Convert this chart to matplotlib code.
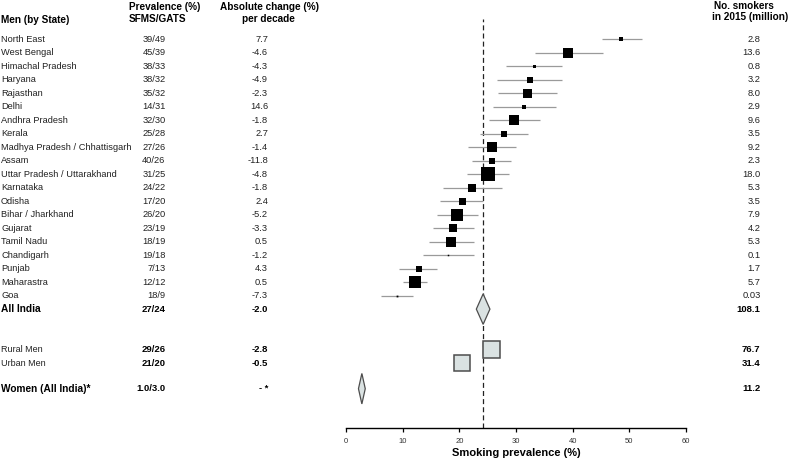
import matplotlib
matplotlib.use("Agg")
import matplotlib.pyplot as plt
from matplotlib.transforms import blended_transform_factory
from matplotlib.patches import Polygon, Rectangle

plt.rcParams['font.family'] = ['Liberation Sans', 'DejaVu Sans']

# ---------------- data ----------------
states = ["North East", "West Bengal", "Himachal Pradesh", "Haryana", "Rajasthan", "Delhi",
          "Andhra Pradesh", "Kerala", "Madhya Pradesh / Chhattisgarh", "Assam",
          "Uttar Pradesh / Uttarakhand", "Karnataka", "Odisha", "Bihar / Jharkhand",
          "Gujarat", "Tamil Nadu", "Chandigarh", "Punjab", "Maharastra", "Goa"]
prev_text = ["39/49", "45/39", "38/33", "38/32", "35/32", "14/31", "32/30", "25/28", "27/26",
             "40/26", "31/25", "24/22", "17/20", "26/20", "23/19", "18/19", "19/18", "7/13",
             "12/12", "18/9"]
change_text = ["7.7", "-4.6", "-4.3", "-4.9", "-2.3", "14.6", "-1.8", "2.7", "-1.4", "-11.8",
               "-4.8", "-1.8", "2.4", "-5.2", "-3.3", "0.5", "-1.2", "4.3", "0.5", "-7.3"]
smokers_text = ["2.8", "13.6", "0.8", "3.2", "8.0", "2.9", "9.6", "3.5", "9.2", "2.3", "18.0",
                "5.3", "3.5", "7.9", "4.2", "5.3", "0.1", "1.7", "5.7", "0.03"]
estimate = [48.6, 39.2, 33.1, 32.4, 32.0, 31.4, 29.7, 27.9, 25.8, 25.7, 25.1, 22.3, 20.4,
            19.6, 18.9, 18.6, 18.0, 12.8, 12.2, 9.0]
ci_low = [45.1, 33.3, 28.2, 26.6, 26.9, 25.9, 25.2, 23.6, 21.5, 22.3, 21.4, 17.2, 16.5,
          16.0, 15.4, 14.7, 13.6, 9.4, 10.1, 6.2]
ci_high = [52.3, 45.3, 38.1, 38.1, 37.2, 37.1, 34.2, 32.2, 30.0, 29.2, 28.8, 27.5, 24.2,
           23.3, 22.5, 22.5, 22.6, 16.1, 14.3, 11.8]
weights = [4.7, 10.7, 3.0, 6.0, 9.0, 5.0, 10.3, 6.3, 10.7, 6.0, 14.3, 8.3, 7.0, 11.7,
           8.3, 9.7, 1.5, 6.0, 11.7, 1.8]

all_india = {"label": "All India", "prev": "27/24", "change": "-2.0", "smokers": "108.1",
             "est": 24.2, "lo": 23.0, "hi": 25.4}
group_labels = ["Rural Men", "Urban Men"]
group_prev = ["29/26", "21/20"]
group_change = ["-2.8", "-0.5"]
group_smokers = ["76.7", "31.4"]
group_lo = [24.1, 19.1]
group_hi = [27.1, 21.8]
women = {"label": "Women (All India)*", "prev": "1.0/3.0", "change": "- *", "smokers": "11.2",
         "est": 2.8, "lo": 2.2, "hi": 3.4}
reference_line = 24.2

# ---------------- layout ----------------
W, H = 790, 461
fig = plt.figure(figsize=(W / 100, H / 100), dpi=100)
row0_px, row_step = 39.3, 13.49
ax_top_px, ax_bot_px = 19, 428
ax_left_px, ax_right_px = 346, 686
ax = fig.add_axes([ax_left_px / W, 1 - ax_bot_px / H, (ax_right_px - ax_left_px) / W,
                   (ax_bot_px - ax_top_px) / H])
ax.set_xlim(0, 60)
ax.set_ylim((ax_bot_px - row0_px) / row_step, -(row0_px - ax_top_px) / row_step)

for s in ["top", "right", "left"]:
    ax.spines[s].set_visible(False)
ax.spines["bottom"].set_linewidth(1.0)
ax.set_yticks([])
ax.set_xticks(range(0, 61, 10))
ax.tick_params(axis="x", direction="out", length=3, width=0.9, labelsize=5.5,
               labelcolor="#333333", pad=4)
ax.set_xlabel("Smoking prevalence (%)", fontsize=8, fontweight="bold", labelpad=2)
ax.patch.set_alpha(0)

rows = list(range(len(states)))
row_all = 20
row_groups = [23.0, 24.0]
row_women = 25.9

# reference line
ax.axvline(reference_line, color="#222222", lw=0.9, ls=(0, (4, 2.5)), zorder=1)

# CIs and squares
for r, e, lo, hi, w in zip(rows, estimate, ci_low, ci_high, weights):
    ax.plot([lo, hi], [r, r], color="#9a9a9a", lw=0.9, zorder=2, solid_capstyle="butt")
    ax.plot([e], [r], marker="s", ms=w * 0.72, color="black", mec="black", mew=0, zorder=3)

fill_c, edge_c = "#dae2e2", "#4d4d4d"
diamond_h = 1.13


def diamond(est, lo, hi, r):
    ax.add_patch(Polygon([[lo, r], [est, r - diamond_h], [hi, r], [est, r + diamond_h]],
                         closed=True, facecolor=fill_c, edgecolor=edge_c, lw=0.9, zorder=4))


diamond(all_india["est"], all_india["lo"], all_india["hi"], row_all)
diamond(women["est"], women["lo"], women["hi"], row_women)
box_h = [1.25, 1.13]
for r, lo, hi, bh in zip(row_groups, group_lo, group_hi, box_h):
    ax.add_patch(Rectangle((lo, r - bh / 2), hi - lo, bh, facecolor=fill_c, edgecolor=edge_c,
                           lw=1.1, zorder=4))

# ---------------- text columns ----------------
tr = blended_transform_factory(fig.transFigure, ax.transData)
x_lab, x_prev, x_chg, x_smk = 1 / W, 165.5 / W, 268 / W, 760.5 / W
tc = "#222222"
fs = 6.7

for r, s, p, c, n in zip(rows, states, prev_text, change_text, smokers_text):
    ax.text(x_lab, r, s, transform=tr, ha="left", va="center", fontsize=fs, color=tc)
    ax.text(x_prev, r, p, transform=tr, ha="right", va="center", fontsize=fs, color=tc)
    ax.text(x_chg, r, c, transform=tr, ha="right", va="center", fontsize=fs, color=tc)
    ax.text(x_smk, r, n, transform=tr, ha="right", va="center", fontsize=fs, color=tc)

bkw = dict(transform=tr, va="center", fontweight="bold", color="black")
ax.text(x_lab, row_all, all_india["label"], ha="left", fontsize=7.3, **bkw)
ax.text(x_prev, row_all, all_india["prev"], ha="right", fontsize=6.8, **bkw)
ax.text(x_chg, row_all, all_india["change"], ha="right", fontsize=6.8, **bkw)
ax.text(x_smk, row_all, all_india["smokers"], ha="right", fontsize=6.8, **bkw)

for r, lab, p, c, n in zip(row_groups, group_labels, group_prev, group_change, group_smokers):
    ax.text(x_lab, r, lab, transform=tr, ha="left", va="center", fontsize=6.5, color=tc)
    ax.text(x_prev, r, p, ha="right", fontsize=6.8, **bkw)
    ax.text(x_chg, r, c, ha="right", fontsize=6.8, **bkw)
    ax.text(x_smk, r, n, ha="right", fontsize=6.8, **bkw)

ax.text(x_lab, row_women, women["label"], ha="left", fontsize=7.3, **bkw)
ax.text(x_prev, row_women, women["prev"], ha="right", fontsize=6.8, **bkw)
ax.text(x_chg, row_women, women["change"], ha="right", fontsize=6.8, **bkw)
ax.text(x_smk, row_women, women["smokers"], ha="right", fontsize=6.8, **bkw)

# headers
hkw = dict(fontsize=7.2, fontweight="bold", va="center", color="black")
fig.text(1 / W, 1 - 20 / H, "Men (by State)", ha="left", **hkw)
fig.text(129 / W, 1 - 7.5 / H, "Prevalence (%)", ha="left", **hkw)
fig.text(129 / W, 1 - 18.5 / H, "SFMS/GATS", ha="left", **hkw)
fig.text(270 / W, 1 - 7.5 / H, "Absolute change (%)", ha="center", **hkw)
fig.text(268 / W, 1 - 18.5 / H, "per decade", ha="center", **hkw)
fig.text(744 / W, 1 - 6 / H, "No. smokers", ha="center", **hkw)
fig.text(750 / W, 1 - 17.5 / H, "in 2015 (million)", ha="center", **hkw)

fig.savefig("out.png", dpi=100, facecolor="white")
